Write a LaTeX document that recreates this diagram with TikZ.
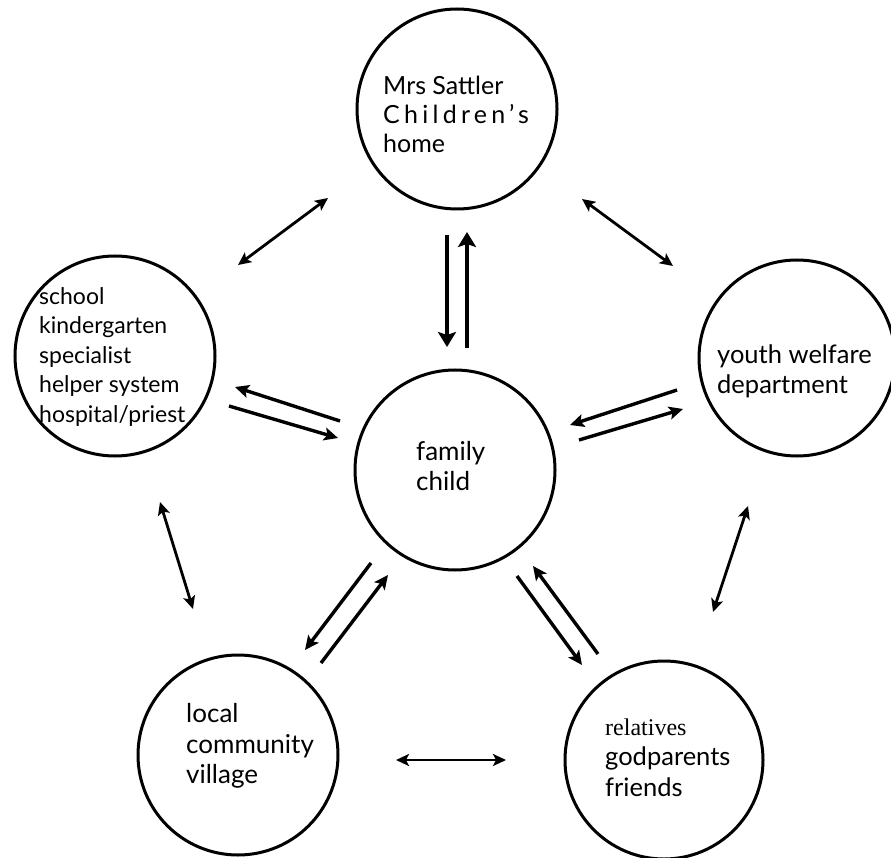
\documentclass[tikz,border=0pt]{standalone}
\usepackage{fontspec}
\setmainfont{Lato}
\newfontfamily\spaced[LetterSpace=17]{Lato}
\newfontfamily\serifx{Liberation Serif}
\usetikzlibrary{arrows.meta}
\begin{document}
\begin{tikzpicture}[x=1pt,y=-1pt,
  ring/.style={draw, line width=3pt, circle, inner sep=0pt, minimum size=200pt},
  lbl/.style={anchor=north west, align=left, inner sep=0pt},
  arr/.style={line width=3.4pt, -{Stealth[length=14pt,width=13pt,inset=3pt]}},
  bigarr/.style={line width=4pt, -{Stealth[length=15pt,width=18pt,inset=3pt]}},
  dbl/.style={line width=2.8pt, {Stealth[length=13pt,width=12pt,inset=3pt]}-{Stealth[length=13pt,width=12pt,inset=3pt]}}]
\useasboundingbox (0,0) rectangle (891,858);
\node[ring] (top) at (457,109) {};
\node[ring] (left) at (115,356) {};
\node[ring] (mid) at (455,470) {};
\node[ring, minimum size=196pt] (right) at (797,358) {};
\node[ring] (bl) at (238,755) {};
\node[ring, minimum size=198pt] (br) at (664,760) {};
% labels
\node[lbl, font=\fontsize{25}{29}\selectfont] (ttop) at (383,75.9) {Mrs Sattler\\{\spaced Children’s}\\home};
\node[lbl, font=\fontsize{23}{29.5}\selectfont] (tleft) at (39,287.3) {school\\kindergarten\\specialist\\helper system\\hospital/priest};
\node[lbl, font=\fontsize{26}{30}\selectfont] (tmid) at (416,441) {family\\child};
\node[lbl, font=\fontsize{25.5}{30}\selectfont] (tright) at (717,344.5) {youth welfare\\department};
\node[lbl, font=\fontsize{26}{30.5}\selectfont] (tbl) at (186,703.2) {local\\community\\village};
\node[lbl, font=\fontsize{25.5}{30.5}\selectfont] (tbr) at (605,718.3) {{\serifx\fontsize{24}{30.5}\selectfont relatives}\\godparents\\friends};
% coordinates
\coordinate (a1) at (238,265); \coordinate (a2) at (328,198);
\coordinate (b1) at (582,199); \coordinate (b2) at (673,266);
\coordinate (c1) at (447,235); \coordinate (c2) at (447,347);
\coordinate (d1) at (467,348); \coordinate (d2) at (467,232);
\coordinate (e1) at (340,421); \coordinate (e2) at (235,387);
\coordinate (f1) at (229,406); \coordinate (f2) at (338,438);
\coordinate (g1) at (677,390); \coordinate (g2) at (570,425);
\coordinate (h1) at (579,440); \coordinate (h2) at (683,409);
\coordinate (i1) at (160,502); \coordinate (i2) at (193,609);
\coordinate (j1) at (748,506); \coordinate (j2) at (713,612);
\coordinate (k1) at (396,760); \coordinate (k2) at (506,760);
\coordinate (l1) at (371,563); \coordinate (l2) at (305,650);
\coordinate (m1) at (321,663); \coordinate (m2) at (388,575);
\coordinate (n1) at (517,576); \coordinate (n2) at (582,665);
\coordinate (o1) at (598,654); \coordinate (o2) at (533,566);
\draw[dbl] (a1) -- (a2);
\draw[dbl] (b1) -- (b2);
\draw[bigarr] (c1) -- (c2);
\draw[bigarr] (d1) -- (d2);
\draw[arr] (e1) -- (e2);
\draw[arr] (f1) -- (f2);
\draw[arr] (g1) -- (g2);
\draw[arr] (h1) -- (h2);
\draw[dbl] (i1) -- (i2);
\draw[dbl] (j1) -- (j2);
\draw[dbl] (k1) -- (k2);
\draw[arr] (l1) -- (l2);
\draw[arr] (m1) -- (m2);
\draw[arr] (n1) -- (n2);
\draw[arr] (o1) -- (o2);
\end{tikzpicture}
\end{document}
